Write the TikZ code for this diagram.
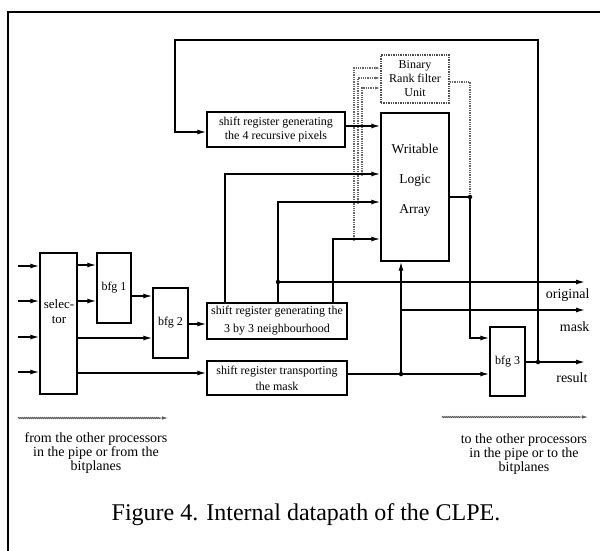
\documentclass[tikz,border=0pt]{standalone}
\usepackage{fontspec}
\setmainfont{Liberation Serif}
\usetikzlibrary{arrows.meta,decorations.pathmorphing}
\begin{document}
\begin{tikzpicture}[x=1pt,y=-1pt,
  box/.style={draw,line width=1.4pt,rectangle,inner sep=0pt,font=\fontsize{12}{14}\selectfont,align=center},
  dbox/.style={box,densely dotted,draw=black!70},
  wire/.style={line width=1.4pt},
  arr/.style={wire,-{Latex[length=9pt,width=5pt]}},
  dotw/.style={line width=1.3pt,densely dotted,black!60},
  darr/.style={dotw,-{Latex[length=5pt,width=3pt]}},
  jdot/.style={circle,fill,inner sep=0pt,minimum size=4.5pt},
  wave/.style={black!65,line width=0.9pt,decorate,decoration={snake,amplitude=0.5pt,segment length=2pt,post length=7pt},-{Latex[length=6pt,width=3.5pt]}},
  lbl/.style={font=\fontsize{14}{15}\selectfont},
  note/.style={font=\fontsize{14}{14}\selectfont,align=center}
]
\useasboundingbox (0,0) rectangle (600,550);
\fill[white] (0,0) rectangle (600,550);
\draw[line width=2pt] (8,552) -- (8,12) -- (602,12);

% boxes
\node[box,minimum width=37pt,minimum height=141pt] (sel) at (58.5,323.5) {};
\node[font=\fontsize{13}{15}\selectfont,align=center] (seltext) at (59,312) {selec-\\tor};
\node[box,minimum width=34pt,minimum height=70pt] (bfg1) at (114,288) {bfg 1};
\node[box,minimum width=35pt,minimum height=70pt] (bfg2) at (170.5,323) {bfg 2};
\node[box,minimum width=140pt,minimum height=36pt] (sr3) at (277,321) {shift register generating the\\[4pt]3 by 3 neighbourhood};
\node[box,minimum width=140pt,minimum height=34pt] (srm) at (277,378) {shift register transporting\\[2pt]the mask};
\node[box,minimum width=138pt,minimum height=35pt] (sr4) at (276,129.5) {shift register generating\\the 4 recursive pixels};
\node[box,minimum width=68pt,minimum height=148pt] (wla) at (415,187) {};
\node[font=\fontsize{13.5}{30}\selectfont,align=center] (wlatext) at (415,180) {Writable\\Logic\\Array};
\node[dbox,minimum width=68pt,minimum height=48pt] (brfu) at (415,79) {Binary\\Rank filter\\Unit};
\node[box,minimum width=35pt,minimum height=69pt] (bfg3) at (507.5,361.5) {bfg 3};

% coordinates
\coordinate (in1) at (18,266);
\coordinate (in2) at (18,301);
\coordinate (in3) at (18,337);
\coordinate (in4) at (18,372);
\coordinate (jo) at (278,282);
\coordinate (jm) at (401,374);
\coordinate (jmk) at (401,310);
\coordinate (jw) at (470,197);
\coordinate (jr) at (538,362);
\coordinate (d1) at (362,174);
\coordinate (d2) at (358,202);
\coordinate (d3) at (354,239);
\coordinate (outo) at (585,282);
\coordinate (outm) at (585,310);
\coordinate (outr) at (585,362);

% inputs
\foreach \c in {in1,in2,in3,in4} \draw[arr] (\c) -- (sel.west |- \c);
\draw[arr] (sel.east |- 0,265) -- (bfg1.west |- 0,265);
\draw[arr] (sel.east |- 0,301) -- (bfg1.west |- 0,301);
\draw[arr] (bfg1.east |- 0,296) -- (bfg2.west |- 0,296);
\draw[arr] (sel.east |- 0,338) -- (bfg2.west |- 0,338);
\draw[arr] (bfg2.east |- 0,324) -- (sr3.west |- 0,324);
\draw[arr] (sel.east |- 0,373) -- (srm.west |- 0,373);

% dotted feeds to the rank filter
\draw[darr] (d1) |- (brfu.west |- 0,88);
\draw[darr] (d2) |- (brfu.west |- 0,78);
\draw[darr] (d3) |- (brfu.west |- 0,68);

% 3x3 neighbourhood to WLA
\draw[arr] (sr3.north -| 225,0) |- (wla.west |- d1);
\draw[arr] (sr3.north -| 278,0) |- (wla.west |- d2);
\draw[arr] (sr3.north -| 333,0) |- (wla.west |- d3);
\draw[arr] (jo) -- (outo);

% mask path
\draw[arr] (srm.east |- jm) -- (bfg3.west |- jm);
\draw[arr] (jm) -- (wla.south -| jm);
\draw[arr] (jmk) -- (outm);

% WLA / rank filter outputs
\draw[dotw] (brfu.east |- 0,82) -| (jw);
\draw[wire] (wla.east |- jw) -- (jw);
\draw[arr] (jw) |- (bfg3.west |- 0,338);
\draw[arr] (bfg3.east |- jr) -- (outr);

% recursive feedback
\draw[arr] (jr) |- (175,40) |- (sr4.west |- 0,132);
\draw[arr] (sr4.east |- 0,126) -- (wla.west |- 0,126);

% junction dots
\foreach \c in {jo,jm,jw,jr} \node[jdot] at (\c) {};
\foreach \c in {d1,d2,d3} \node[jdot,minimum size=3.5pt] at (\c) {};

% output labels
\node[lbl,anchor=east] (lo) at (593,295) {original};
\node[lbl,anchor=east] (lm) at (593,327) {mask};
\node[lbl,anchor=east] (lr) at (591,378) {result};

% bottom
\coordinate (wl1) at (18,418);
\coordinate (wl2) at (168,418);
\coordinate (wr1) at (442,417);
\coordinate (wr2) at (588,417);
\draw[wave] (wl1) -- (wl2);
\draw[wave] (wr1) -- (wr2);
\node[note] (from) at (96,453) {from the other processors\\in the pipe or from the\\bitplanes};
\node[note] (to) at (524,454) {to the other processors\\in the pipe or to the\\bitplanes};
\node[font=\fontsize{24}{26}\selectfont] (cap) at (306,515) {Figure 4. Internal datapath of the CLPE.};
\end{tikzpicture}
\end{document}
